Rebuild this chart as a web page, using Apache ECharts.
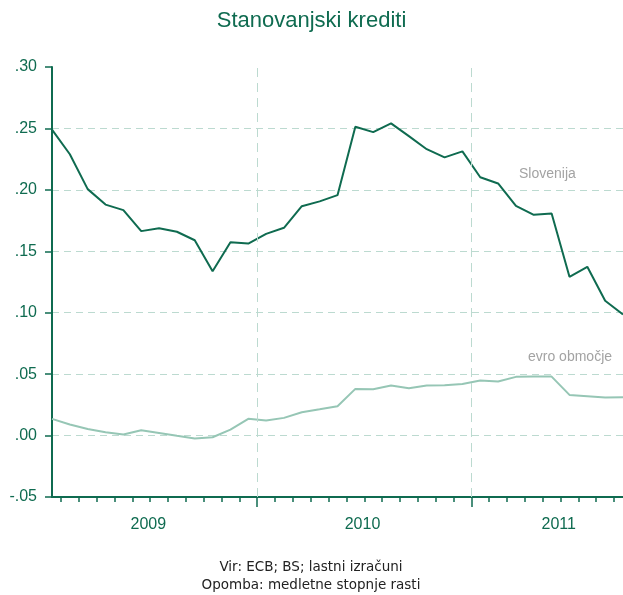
<!DOCTYPE html>
<html>
<head>
<meta charset="utf-8">
<title>Stanovanjski krediti</title>
<script src="https://cdn.jsdelivr.net/npm/echarts@6/dist/echarts.min.js"></script>
<style>
  html, body { margin: 0; padding: 0; background: #fff; }
  #main { width: 623px; height: 595px; }
</style>
</head>
<body>
<div id="main"></div>
<script>
// mesecne tocke: jan 2009 .. sep 2011 (indeks 0..32)
var months = ['2009-01','2009-02','2009-03','2009-04','2009-05','2009-06','2009-07','2009-08','2009-09','2009-10','2009-11','2009-12',
              '2010-01','2010-02','2010-03','2010-04','2010-05','2010-06','2010-07','2010-08','2010-09','2010-10','2010-11','2010-12',
              '2011-01','2011-02','2011-03','2011-04','2011-05','2011-06','2011-07','2011-08','2011-09'];
var slovenija = [0.249, 0.229, 0.2006, 0.188, 0.1835, 0.1664, 0.1688, 0.1659, 0.159, 0.1338, 0.1574, 0.1563,
                 0.1642, 0.1691, 0.1867, 0.1906, 0.1957, 0.2514, 0.247, 0.2541, 0.2437, 0.2331, 0.2264, 0.2313,
                 0.2103, 0.2052, 0.187, 0.1797, 0.1808, 0.1292, 0.1374, 0.1097, 0.0985];
var evro = [0.0136, 0.009, 0.0054, 0.0027, 0.0008, 0.0043, 0.0021, -0.0002, -0.0024, -0.0014, 0.0049, 0.0136,
            0.0122, 0.0144, 0.019, 0.0214, 0.0239, 0.038, 0.0377, 0.0407, 0.0385, 0.0407, 0.041, 0.042,
            0.0448, 0.044, 0.0478, 0.048, 0.048, 0.0331, 0.032, 0.0309, 0.0312];
var years = ['2009', '2010', '2011'];
var yearLabelPos = [5.4, 17.4, 28.4];
var yearBreaks = [11.5, 23.5];

var dark = '#0f6b50';
var light = '#96c6b5';
var grid = '#bcdad0';

function toPairs(arr) {
    var out = [];
    for (var i = 0; i < arr.length; i++) out.push([i, arr[i]]);
    return out;
}
var minorTicks = [];
for (var i = 0; i < months.length - 1; i++) minorTicks.push(i + 0.5);

var chart = echarts.init(document.getElementById('main'));
chart.setOption({
    animation: false,
    title: {
        text: 'Stanovanjski krediti',
        left: 'center',
        top: 5,
        textStyle: { color: dark, fontSize: 22, fontWeight: 'normal', fontFamily: 'Liberation Sans' }
    },
    grid: { left: 52, right: -2, top: 67, bottom: 98 },
    xAxis: [{
        type: 'value',
        min: 0,
        max: months.length - 1,
        axisLine: { onZero: false, lineStyle: { color: dark, width: 2 } },
        axisTick: { customValues: minorTicks, length: 5, lineStyle: { color: dark, width: 1.5 } },
        axisLabel: {
            customValues: yearLabelPos,
            margin: 20,
            color: dark,
            fontSize: 16,
            fontFamily: 'Liberation Sans',
            formatter: function (v) {
                for (var k = 0; k < yearLabelPos.length; k++) if (Math.abs(yearLabelPos[k] - v) < 0.01) return years[k];
                return '';
            }
        },
        splitLine: { show: false }
    }, {
        type: 'value',
        min: 0,
        max: months.length - 1,
        position: 'bottom',
        axisLine: { show: false, onZero: false },
        axisTick: { customValues: yearBreaks, length: 10, lineStyle: { color: dark, width: 1.5 } },
        axisLabel: { show: false },
        splitLine: { show: false }
    }],
    yAxis: {
        type: 'value',
        min: -0.05,
        max: 0.30,
        interval: 0.05,
        axisLine: { show: true, lineStyle: { color: dark, width: 2 } },
        axisTick: { show: true, length: 7, lineStyle: { color: dark, width: 1.5 } },
        axisLabel: {
            margin: 15,
            color: dark,
            fontSize: 16,
            fontFamily: 'Liberation Sans',
            formatter: function (v) { return v.toFixed(2).replace('0.', '.'); }
        },
        splitLine: { show: true, showMinLine: false, showMaxLine: false, lineStyle: { color: grid, type: [7, 5], width: 1 } }
    },
    graphic: [{
        type: 'text', left: 519, top: 167,
        style: { text: 'Slovenija', fill: '#a3a3a3', fontSize: 14, fontFamily: 'Liberation Sans' }
    }, {
        type: 'text', left: 528, top: 350,
        style: { text: 'evro območje', fill: '#a3a3a3', fontSize: 14, fontFamily: 'Liberation Sans' }
    }, {
        type: 'text', x: 311, y: 567,
        style: { text: 'Vir: ECB; BS; lastni izračuni', fill: '#222', fontSize: 13.5, fontFamily: 'DejaVu Sans', align: 'center', verticalAlign: 'middle' }
    }, {
        type: 'text', x: 311, y: 585,
        style: { text: 'Opomba: medletne stopnje rasti', fill: '#222', fontSize: 13.5, fontFamily: 'DejaVu Sans', align: 'center', verticalAlign: 'middle' }
    }],
    series: [{
        name: 'evro območje',
        type: 'line',
        data: toPairs(evro),
        showSymbol: false,
        lineStyle: { color: light, width: 2 },
        markLine: {
            silent: true,
            symbol: ['none', 'none'],
            label: { show: false },
            lineStyle: { color: grid, type: [9, 6], width: 1 },
            data: yearBreaks.map(function (b) { return { xAxis: b }; })
        }
    }, {
        name: 'Slovenija',
        type: 'line',
        data: toPairs(slovenija),
        showSymbol: false,
        lineStyle: { color: dark, width: 2 }
    }]
});
</script>
</body>
</html>
